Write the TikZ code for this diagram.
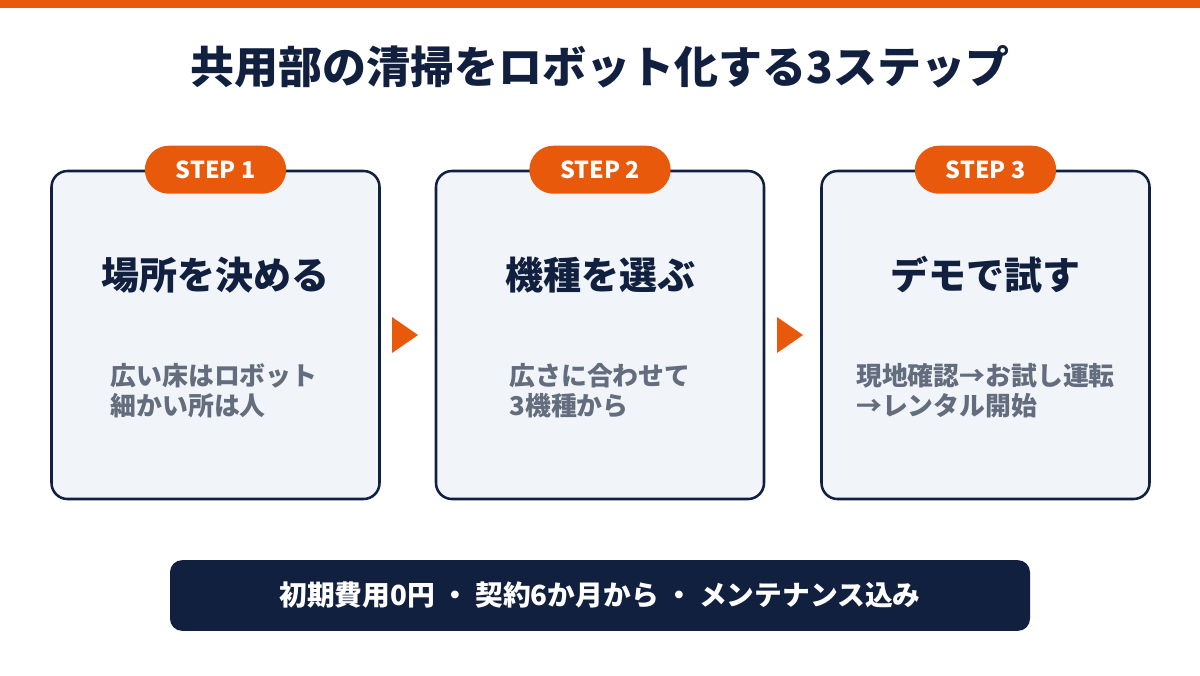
\documentclass[tikz,border=0pt]{standalone}
\usepackage{fontspec}
\setmainfont{Noto Sans CJK JP}
\usepackage{tikz}
\usetikzlibrary{positioning}
\definecolor{stepOrange}{HTML}{E8590C}
\definecolor{stepNavy}{HTML}{12203F}
\definecolor{boxFill}{HTML}{F1F5FA}
\definecolor{bodyGray}{HTML}{646D7E}

\begin{document}
\begin{tikzpicture}[x=0.75pt,y=-0.75pt,
    stepcard/.style={draw=stepNavy,line width=1.9pt,fill=boxFill,rounded corners=12pt,
      minimum width=246pt,minimum height=246pt,inner sep=0pt},
    steppill/.style={fill=stepOrange,rounded corners=18pt,minimum width=106pt,
      minimum height=36pt,inner sep=0pt,text=white,font=\bfseries\fontsize{17.5}{17.5}\selectfont},
    cardtitle/.style={text=stepNavy,font=\bfseries\fontsize{28.5}{28.5}\selectfont},
    cardbody/.style={text=bodyGray,align=left,font=\bfseries\fontsize{19.4}{22.5}\selectfont},
    nextmark/.style={fill=stepOrange}]
  \useasboundingbox (0,0) rectangle (1200,675);
  \fill[stepOrange] (0,0) rectangle (1200,8);
  \node[text=stepNavy,font=\bfseries\fontsize{33}{33}\selectfont] (title) at (600,67)
    {共用部の清掃をロボット化する3ステップ};
  % three cards
  \node[stepcard] (box1) at (215.5,335) {};
  \node[stepcard] (box2) at (600,335) {};
  \node[stepcard] (box3) at (985.5,335) {};
  \node[steppill] (step1) at (box1.north) {STEP 1};
  \node[steppill] (step2) at (box2.north) {STEP 2};
  \node[steppill] (step3) at (box3.north) {STEP 3};
  \node[cardtitle] (head1) at (215.5,275) {場所を決める};
  \node[cardtitle] (head2) at (600,275) {機種を選ぶ};
  \node[cardtitle] (head3) at (985.5,275) {デモで試す};
  \node[cardbody] (text1) at (214,391) {広い床はロボット\\細かい所は人};
  \node[cardbody] (text2) at (600,391) {広さに合わせて\\3機種から};
  \node[cardbody] (text3) at (985.5,391) {現地確認→お試し運転\\→レンタル開始};
  % arrows between cards
  \fill[nextmark] (392,317) -- (418,335) -- (392,353) -- cycle;
  \fill[nextmark] (777,317) -- (803,335) -- (777,353) -- cycle;
  % footer
  \node[fill=stepNavy,rounded corners=9pt,minimum width=645pt,minimum height=53pt,
    text=white,font=\bfseries\fontsize{20.8}{20.8}\selectfont] (footer) at (600,595.5)
    {初期費用0円 ・ 契約6か月から ・ メンテナンス込み};
\end{tikzpicture}
\end{document}
